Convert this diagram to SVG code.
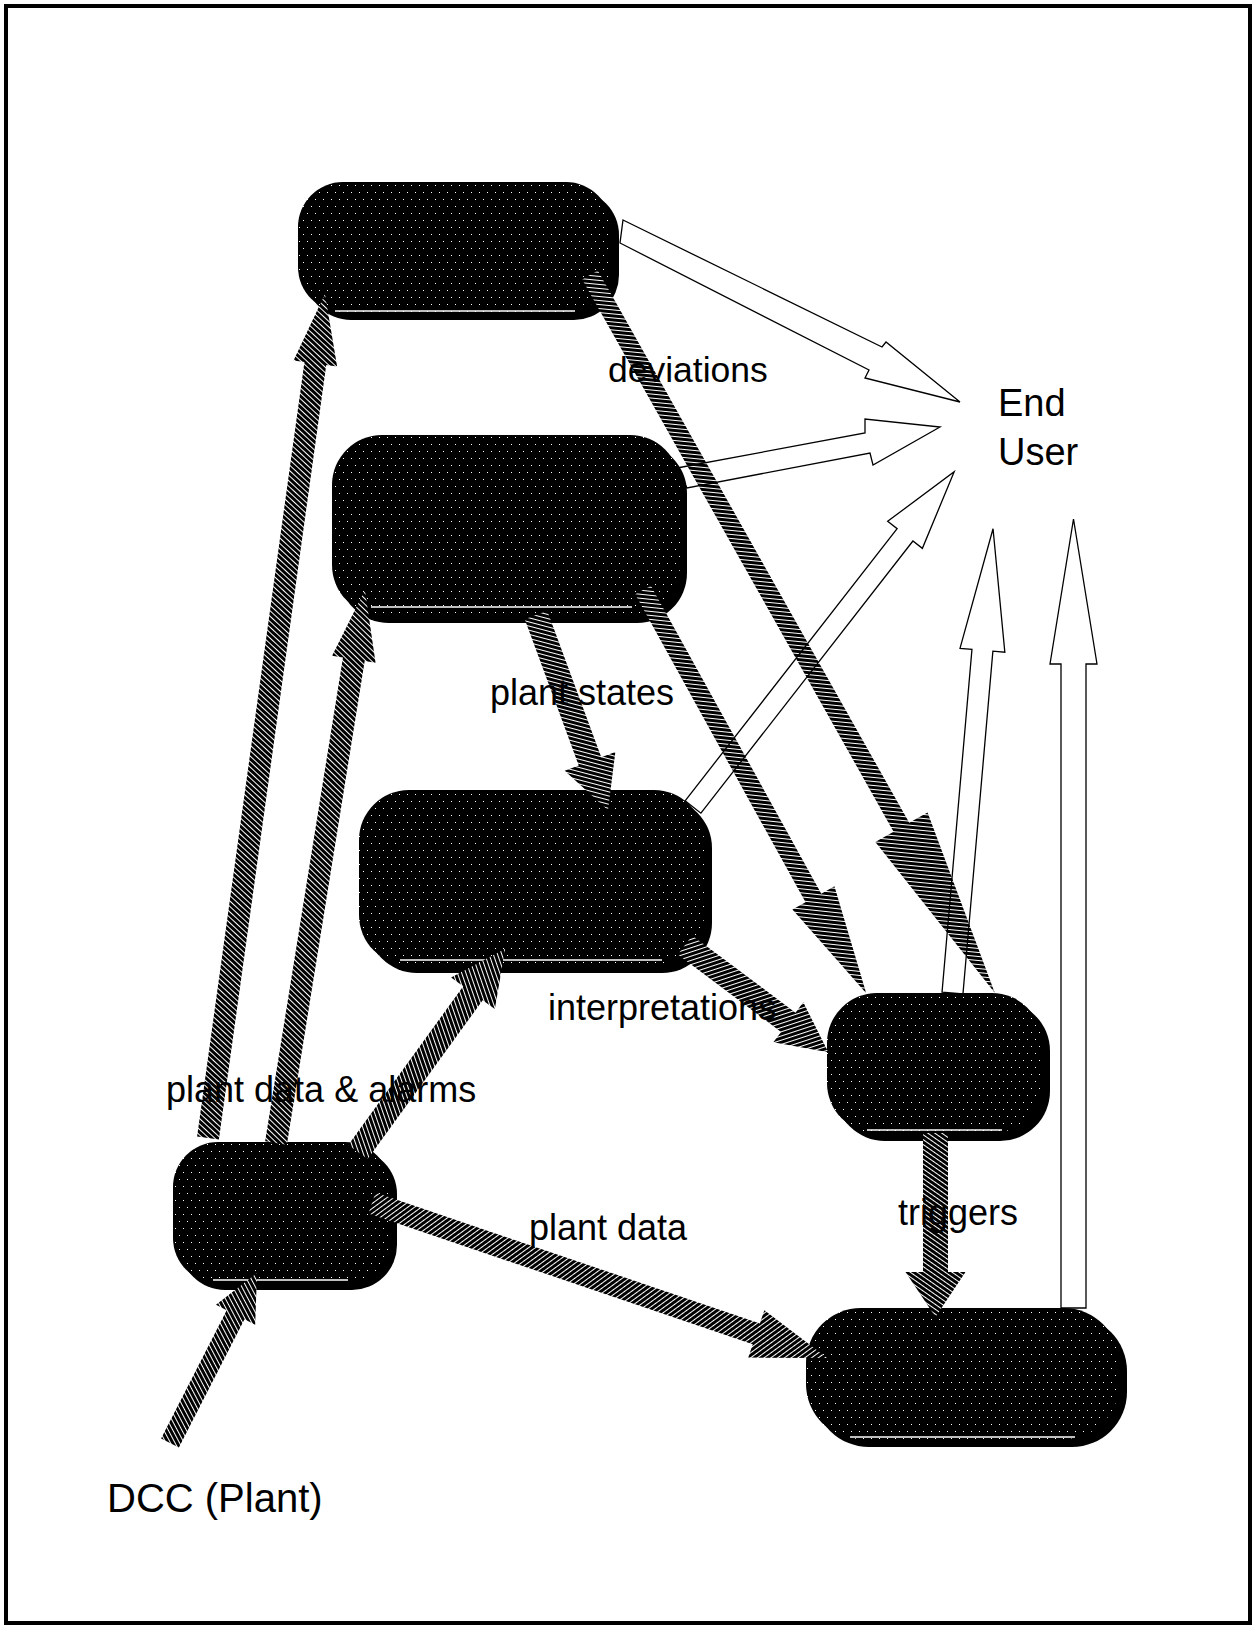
<svg xmlns="http://www.w3.org/2000/svg" width="1252" height="1627" viewBox="0 0 1252 1627">
  <defs>
    <!-- speckled fill of the process boxes -->
    <pattern id="dots" width="8" height="14" patternUnits="userSpaceOnUse">
      <rect width="8" height="14" fill="#000"/>
      <rect x="3" y="3" width="1" height="1" fill="#fff"/>
      <rect x="7" y="10" width="1" height="1" fill="#fff"/>
    </pattern>
    <!-- hatched fill of the data-flow arrows -->
    <pattern id="hatch" width="4" height="4" patternUnits="userSpaceOnUse" patternTransform="rotate(35)">
      <rect width="4" height="4" fill="#000"/>
      <rect width="1" height="4" fill="#fff"/>
    </pattern>
    <style>
      .shadow { fill: #000; }
      .face { fill: url(#dots); }
      .hl { stroke: #fff; stroke-width: 1.5; }
      .flow { fill: url(#hatch); }
      .out { fill: none; stroke: #000; stroke-width: 1.3; stroke-linejoin: miter; }
      .lbl { font-family: "Liberation Sans", Arial, sans-serif; font-size: 36px; fill: #000; }
    </style>
  </defs>

  <!-- frame -->
  <rect x="6" y="6" width="1244" height="1617" fill="#fff" stroke="#000" stroke-width="4"/>

  <!-- process boxes -->
  <g id="node-top">
    <rect class="shadow" x="306" y="190" width="313" height="130" rx="45"/>
    <rect class="face" x="298" y="182" width="313" height="130" rx="45"/>
    <line class="hl" x1="335" y1="311" x2="575" y2="311"/>
  </g>
  <g id="node-states">
    <rect class="shadow" x="339" y="443" width="348" height="180" rx="50"/>
    <rect class="face" x="332" y="435" width="348" height="180" rx="50"/>
    <line class="hl" x1="371" y1="607" x2="632" y2="607"/>
  </g>
  <g id="node-interp">
    <rect class="shadow" x="367" y="798" width="345" height="175" rx="50"/>
    <rect class="face" x="359" y="790" width="345" height="175" rx="50"/>
    <line class="hl" x1="400" y1="960" x2="662" y2="960"/>
  </g>
  <g id="node-trigger">
    <rect class="shadow" x="835" y="1001" width="215" height="140" rx="50"/>
    <rect class="face" x="827" y="993" width="215" height="140" rx="50"/>
    <line class="hl" x1="867" y1="1130" x2="1002" y2="1130"/>
  </g>
  <g id="node-plant">
    <rect class="shadow" x="180" y="1149" width="217" height="141" rx="45"/>
    <rect class="face" x="173" y="1142" width="217" height="141" rx="45"/>
    <line class="hl" x1="213" y1="1280" x2="348" y2="1280"/>
  </g>
  <g id="node-action">
    <rect class="shadow" x="814" y="1316" width="313" height="131" rx="55"/>
    <rect class="face" x="806" y="1308" width="313" height="131" rx="55"/>
    <line class="hl" x1="850" y1="1437" x2="1075" y2="1437"/>
  </g>

  <!-- connectors -->
  <g id="connectors">
    <!-- hatched data flows: each drawn along +x from its tail, then rotated -->
    <polygon class="flow" transform="translate(208,1138) rotate(-82.11)" points="0,-11 782,-11 782,-22 852,0 782,22 782,11 0,11"/>
    <polygon class="flow" transform="translate(276,1143) rotate(-80.86)" points="0,-11 490,-11 490,-22 560,0 490,22 490,11 0,11"/>
    <polygon class="flow" transform="translate(358,1152) rotate(-54.09)" points="0,-12 196,-12 196,-27 251,0 196,27 196,12 0,12"/>
    <polygon class="flow" transform="translate(372,1203) rotate(18.81)" points="0,-11 406,-11 406,-25 481,0 406,25 406,11 0,11"/>
    <polygon class="flow" transform="translate(170,1443) rotate(-62.9)" points="0,-10 144,-10 144,-22 191,0 144,22 144,10 0,10"/>
    <polygon class="flow" transform="translate(536,615) rotate(69.74)" points="0,-12 156,-12 156,-27 208,0 156,27 156,12 0,12"/>
    <polygon class="flow" transform="translate(643,590) rotate(61.04)" points="0,-9 352,-9 352,-24 461,0 352,24 352,9 0,9"/>
    <polygon class="flow" transform="translate(590,275) rotate(60.58)" points="0,-9 634,-9 634,-30 824,0 634,30 634,9 0,9"/>
    <polygon class="flow" transform="translate(685,945) rotate(36.8)" points="0,-12 129,-12 129,-25 179,0 129,25 129,12 0,12"/>
    <polygon class="flow" transform="translate(935.5,1133) rotate(90)" points="0,-12.5 139,-12.5 139,-30 184,0 139,30 139,12.5 0,12.5"/>

    <!-- outlined flows to the end user -->
    <polygon class="out" points="623,220 882,347 886,342 960,402 865,378 869,370 620,243"/>
    <polygon class="out" points="677,468 865,433 865,419 940,427 873,465 870,453 687,488"/>
    <polygon class="out" transform="translate(693,807) rotate(-52.08)" points="0,-10 345,-10 345,-22 425,0 345,22 345,10 0,10"/>
    <polygon class="out" transform="translate(952.5,993) rotate(-85.01)" points="0,-10.5 344,-10.5 344,-22.5 466,0 344,22.5 344,10.5 0,10.5"/>
    <polygon class="out" points="1061,1308 1061,664 1050,664 1073.5,519 1097,664 1086,664 1086,1308"/>
  </g>

  <!-- labels -->
  <g id="labels">
    <text class="lbl" x="608" y="382" style="font-size:35.5px">deviations</text>
    <text class="lbl" x="998" y="416" style="font-size:38px">End</text>
    <text class="lbl" x="998" y="465" style="font-size:38px">User</text>
    <text class="lbl" x="490" y="705">plant states</text>
    <text class="lbl" x="548" y="1020">interpretations</text>
    <text class="lbl" x="166" y="1102">plant data &amp; alarms</text>
    <text class="lbl" x="529" y="1240">plant data</text>
    <text class="lbl" x="898" y="1225">triggers</text>
    <text class="lbl" x="107" y="1512" style="font-size:40px">DCC (Plant)</text>
  </g>
</svg>
